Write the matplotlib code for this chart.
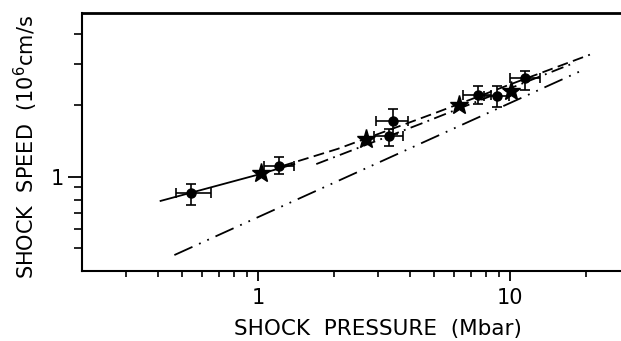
import numpy as np
import matplotlib
matplotlib.use("Agg")
import matplotlib.pyplot as plt
from matplotlib.ticker import FixedLocator, NullFormatter, FixedFormatter

# measured points (filled circles) with error bars
circ_x = [0.54, 1.21, 3.42, 3.29, 7.42, 8.89, 11.4]
circ_y = [0.85, 1.11, 1.71, 1.48, 2.22, 2.18, 2.60]
circ_xlo = [0.47, 1.05, 2.93, 2.87, 6.50, 7.90, 10.0]
circ_xhi = [0.65, 1.39, 3.92, 3.77, 8.40, 9.90, 13.1]
circ_ylo = [0.76, 1.03, 1.51, 1.35, 2.02, 1.96, 2.33]
circ_yhi = [0.93, 1.21, 1.93, 1.59, 2.40, 2.40, 2.80]

# star symbols
star_x = [1.03, 2.67, 6.28, 10.1]
star_y = [1.04, 1.44, 2.00, 2.29]

# curves
solid_x = [0.41, 1.0, 1.39]
solid_y = [0.79, 1.02, 1.13]
dash_x = [1.25, 2.07, 5.0, 10.0, 20.7]
dash_y = [1.11, 1.31, 1.85, 2.45, 3.27]
dashdot_x = [1.70, 4.41, 18.1]
dashdot_y = [1.13, 1.67, 3.03]
dd_x = [0.465, 18.9]
dd_y = [0.467, 2.78]

fig = plt.figure(figsize=(6.21, 3.41), dpi=100)
ax = fig.add_axes([82/621, 1 - 271/341, 1 - 82/621, (271 - 13)/341])

ax.plot(solid_x, solid_y, color='black', lw=1.3)
ax.plot(dash_x, dash_y, color='black', lw=1.3, linestyle=(0, (6, 3)))
ax.plot(dashdot_x, dashdot_y, color='black', lw=1.3, linestyle=(0, (7, 3, 1, 3)))
ax.plot(dd_x, dd_y, color='black', lw=1.3, linestyle=(0, (11, 4, 1, 4, 1, 4)))

cx = np.array(circ_x)
cy = np.array(circ_y)
xerr = [cx - np.array(circ_xlo), np.array(circ_xhi) - cx]
yerr = [cy - np.array(circ_ylo), np.array(circ_yhi) - cy]
ax.errorbar(cx, cy, xerr=xerr, yerr=yerr, fmt='o', color='black',
            ms=6.5, elinewidth=1.2, capsize=3.5, capthick=1.2)
ax.plot(star_x, star_y, '*', color='black', ms=14, ls='none')

ax.set_xscale('log')
ax.set_yscale('log')
ax.set_xlim(0.2, 27.5)
ax.set_ylim(0.4, 4.9)

ax.xaxis.set_major_locator(FixedLocator([1, 10]))
ax.xaxis.set_major_formatter(FixedFormatter(['1', '10']))
ax.xaxis.set_minor_locator(FixedLocator([0.3, 0.4, 0.5, 0.6, 0.7, 0.8, 0.9,
                                         2, 3, 4, 5, 6, 7, 8, 9, 20]))
ax.xaxis.set_minor_formatter(NullFormatter())
ax.yaxis.set_major_locator(FixedLocator([1]))
ax.yaxis.set_major_formatter(FixedFormatter(['1']))
ax.yaxis.set_minor_locator(FixedLocator([0.5, 0.6, 0.7, 0.8, 0.9, 2, 3, 4]))
ax.yaxis.set_minor_formatter(NullFormatter())

ax.tick_params(axis='x', which='major', length=7, width=1.3, labelsize=15, pad=5)
ax.tick_params(axis='x', which='minor', length=4, width=1.2)
ax.tick_params(axis='y', which='major', length=10, width=1.3, labelsize=15, pad=3)
ax.tick_params(axis='y', which='minor', length=6, width=1.2)

ax.spines['right'].set_visible(False)
ax.spines['top'].set_linewidth(2)
ax.spines['left'].set_linewidth(1.5)
ax.spines['bottom'].set_linewidth(1.5)

ax.set_xlabel('SHOCK  PRESSURE  (Mbar)', fontsize=15.5)
ax.xaxis.set_label_coords(0.549, -0.185)
ax.set_ylabel('SHOCK  SPEED  (10$^6$cm/s', fontsize=15)
ax.yaxis.set_label_coords(-0.078, 0.48)

fig.savefig('out.png', dpi=100)
